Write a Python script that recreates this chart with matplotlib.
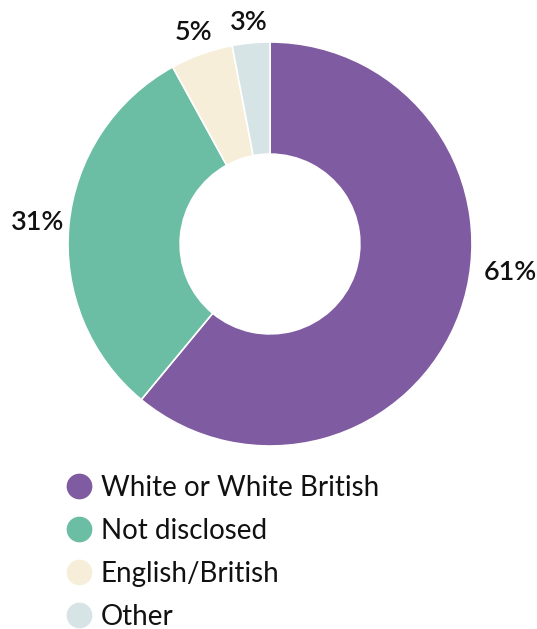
import matplotlib
matplotlib.use("Agg")
import matplotlib.pyplot as plt
from matplotlib.lines import Line2D
import numpy as np

categories = ["White or White British", "Not disclosed", "English/British", "Other"]
values = [61, 31, 5, 3]
pct_labels = ["61%", "31%", "5%", "3%"]
colors = ["#7f5ba1", "#6bbea3", "#f6eed9", "#d6e4e5"]

plt.rcParams['font.family'] = ['Lato', 'DejaVu Sans']

W, H = 537, 629
fig = plt.figure(figsize=(W / 100, H / 100), dpi=100)
cx, cy, R = 270, 244, 202
ax = fig.add_axes([(cx - R) / W, (H - cy - R) / H, 2 * R / W, 2 * R / H])

wedges, _ = ax.pie(values, colors=colors, startangle=90, counterclock=False, radius=1,
                   wedgeprops=dict(width=0.555, edgecolor='white', linewidth=1.2))
ax.set_xlim(-1, 1)
ax.set_ylim(-1, 1)
ax.set_aspect('equal')
ax.axis('off')

label_r = [1.13, 1.155, 1.115, 1.10]
total = sum(values)
cum = 0
for i, (v, lab) in enumerate(zip(values, pct_labels)):
    mid = 90 - (cum + v / 2) / total * 360
    cum += v
    ang = np.deg2rad(mid)
    x, y = label_r[i] * np.cos(ang), label_r[i] * np.sin(ang)
    if i == 0:
        x, y = 1.19, -0.14
    ax.text(x, y, lab, ha='center', va='center', fontsize=19.5, color='#111111',
            fontweight='semibold', clip_on=False)

handles = [Line2D([0], [0], marker='o', linestyle='', markersize=17.5,
                  markerfacecolor=c, markeredgecolor=c) for c in colors]
fig.legend(handles, categories, loc='upper left', bbox_to_anchor=(62 / W, 1 - 475 / H),
           frameon=False, fontsize=20, handletextpad=0.2, labelspacing=0.61,
           handlelength=1.2, borderaxespad=0, borderpad=0, labelcolor='#111111')

fig.savefig("out.png", dpi=100, facecolor='white')
